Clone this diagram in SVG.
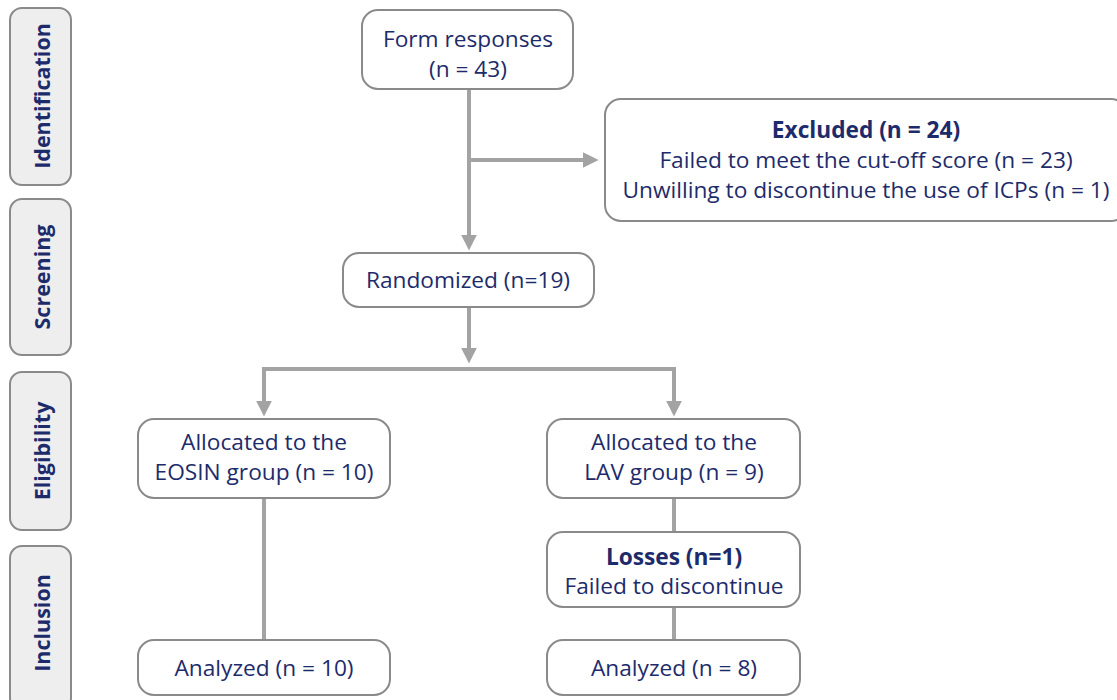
<svg xmlns="http://www.w3.org/2000/svg" width="1117" height="700" viewBox="0 0 1117 700">
<style>
.side{fill:#eeeeee;stroke:#8a8a8a;stroke-width:2}
.node{fill:#ffffff;stroke:#8a8a8a;stroke-width:2}
.st{font-family:"Open Sans","Noto Sans",sans-serif;font-size:21.5px;font-weight:bold;fill:#1d2b6b;text-anchor:middle;dominant-baseline:central}
.t{font-family:"Open Sans","Noto Sans",sans-serif;font-size:22.7px;fill:#1d2b6b;text-anchor:middle}
.b{font-weight:bold}
.ln{fill:none;stroke:#a3a3a3;stroke-width:4}
</style>
<defs>
<marker id="ah" markerWidth="4" markerHeight="4" refX="2.6" refY="2" orient="auto" markerUnits="strokeWidth">
<path d="M0,0 L4,2 L0,4 Z" fill="#a3a3a3"/>
</marker>
</defs>
<g id="stage-identification"><rect class="side" x="10" y="8" width="61" height="177" rx="12"/><text class="st" transform="translate(41,96) rotate(-90)">Identification</text></g>
<g id="stage-screening"><rect class="side" x="10" y="199" width="61" height="156" rx="12"/><text class="st" transform="translate(41,277) rotate(-90)">Screening</text></g>
<g id="stage-eligibility"><rect class="side" x="10" y="372" width="61" height="158" rx="12"/><text class="st" transform="translate(41,451) rotate(-90)">Eligibility</text></g>
<g id="stage-inclusion"><rect class="side" x="10" y="546" width="61" height="164" rx="12"/><text class="st" transform="translate(41,623) rotate(-90)">Inclusion</text></g>
<g id="connectors">
<path class="ln" d="M469,89 V245" marker-end="url(#ah)"/>
<path class="ln" d="M469,160 H593" marker-end="url(#ah)"/>
<path class="ln" d="M469,307 V358" marker-end="url(#ah)"/>
<path class="ln" d="M264,369 H674 V411" marker-end="url(#ah)"/>
<path class="ln" d="M264,367 V411" marker-end="url(#ah)"/>
<path class="ln" d="M264,498 V640"/>
<path class="ln" d="M674,498 V532"/>
<path class="ln" d="M674,607 V640"/>
</g>
<g id="form-responses"><rect class="node" x="362" y="10" width="211" height="79" rx="16"/><text class="t" x="468" y="47">Form responses</text><text class="t" x="468" y="77">(n = 43)</text></g>
<g id="excluded"><rect class="node" x="605" y="99" width="522" height="122" rx="16"/><text class="t b" x="866" y="138">Excluded (n = 24)</text><text class="t" x="866" y="168">Failed to meet the cut-off score (n = 23)</text><text class="t" x="866" y="198">Unwilling to discontinue the use of ICPs (n = 1)</text></g>
<g id="randomized"><rect class="node" x="343" y="253" width="251" height="54" rx="16"/><text class="t" x="468" y="288">Randomized (n=19)</text></g>
<g id="eosin"><rect class="node" x="138" y="419" width="252" height="79" rx="16"/><text class="t" x="264" y="450">Allocated to the</text><text class="t" x="264" y="480">EOSIN group (n = 10)</text></g>
<g id="lav"><rect class="node" x="547" y="419" width="253" height="79" rx="16"/><text class="t" x="674" y="450">Allocated to the</text><text class="t" x="674" y="480">LAV group (n = 9)</text></g>
<g id="losses"><rect class="node" x="547" y="532" width="253" height="75" rx="16"/><text class="t b" x="674" y="565">Losses (n=1)</text><text class="t" x="674" y="594">Failed to discontinue</text></g>
<g id="eosin-analyzed"><rect class="node" x="138" y="640" width="252" height="55" rx="16"/><text class="t" x="264" y="676">Analyzed (n = 10)</text></g>
<g id="lav-analyzed"><rect class="node" x="547" y="640" width="253" height="55" rx="16"/><text class="t" x="674" y="676">Analyzed (n = 8)</text></g>
</svg>
